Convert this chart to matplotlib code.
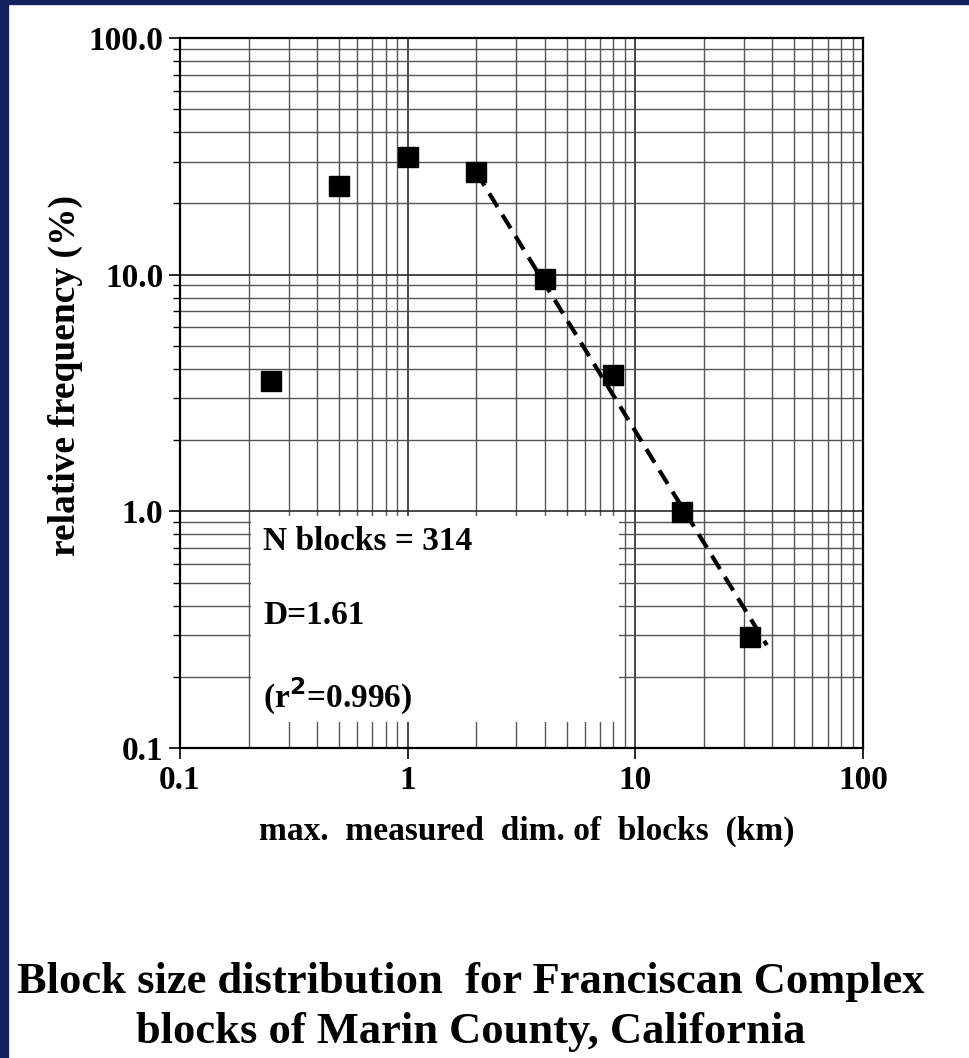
import matplotlib
matplotlib.use('Agg')
import matplotlib.pyplot as plt
from matplotlib.ticker import LogLocator, NullFormatter
from matplotlib.patches import Rectangle

plt.rcParams['font.family'] = ['Liberation Serif', 'DejaVu Serif']
plt.rcParams['font.weight'] = 'bold'

# block sizes (km) and relative frequency (%)
block_size = [0.25, 0.5, 1, 2, 4, 8, 16, 32]
rel_freq = [3.55, 23.7, 31.5, 27.1, 9.6, 3.77, 0.99, 0.295]

# dashed power-law fit, end points
fit_x = [2.0, 37.8]
fit_y = [27.1, 0.272]

x_ticks = [0.1, 1, 10, 100]
x_tick_labels = ['0.1', '1', '10', '100']
y_ticks = [0.1, 1, 10, 100]
y_tick_labels = ['0.1', '1.0', '10.0', '100.0']

info_lines = ['N blocks = 314', 'D=1.61', '(r$^{\\mathbf{2}}$=0.996)']
title_lines = ['Block size distribution  for Franciscan Complex',
               'blocks of Marin County, California']

fig = plt.figure(figsize=(9.69, 10.58), dpi=100)
fig.patch.set_facecolor('white')
navy = '#13215c'
fig.patches.append(Rectangle((0, 0), 8 / 969, 1, transform=fig.transFigure, color=navy, zorder=10))
fig.patches.append(Rectangle((0, 1 - 4 / 1058), 1, 4 / 1058, transform=fig.transFigure, color=navy, zorder=10))

ax = fig.add_axes([180 / 969, 1 - 748 / 1058, 683 / 969, 710 / 1058])
ax.set_xscale('log')
ax.set_yscale('log')
ax.set_xlim(0.1, 100)
ax.set_ylim(0.1, 100)

ax.xaxis.set_minor_locator(LogLocator(base=10, subs=range(2, 10)))
ax.yaxis.set_minor_locator(LogLocator(base=10, subs=range(2, 10)))
ax.xaxis.set_minor_formatter(NullFormatter())
ax.yaxis.set_minor_formatter(NullFormatter())
ax.set_xticks(x_ticks)
ax.set_xticklabels(x_tick_labels)
ax.set_yticks(y_ticks)
ax.set_yticklabels(y_tick_labels)

ax.grid(True, which='major', color='#2a2a2a', linewidth=1.2)
ax.grid(True, which='minor', color='#555555', linewidth=1.0)
ax.set_axisbelow(True)

ax.tick_params(axis='both', which='major', direction='out', length=8, width=1.2,
               labelsize=24, pad=4)
ax.tick_params(axis='y', which='minor', direction='out', length=5, width=1.0)
ax.tick_params(axis='x', which='minor', length=0)
for s in ax.spines.values():
    s.set_linewidth(1.6)
    s.set_color('black')

# white patch behind the annotation text
ax.add_patch(Rectangle((0.205, 0.129), 8.5 - 0.205, 0.96 - 0.129,
                       facecolor='white', edgecolor='none', zorder=1.5))

ax.plot(fit_x, fit_y, color='black', linestyle=(0, (3.8, 2.2)), linewidth=3, zorder=3)
ax.plot(block_size, rel_freq, linestyle='none', marker='s', markersize=14,
        color='black', zorder=4)

text_y = [0.279, 0.175, 0.056]
for t, yy in zip(info_lines, text_y):
    ax.text(0.1215, yy, t, transform=ax.transAxes, fontsize=24, fontweight='bold',
            ha='left', va='baseline', zorder=5)

ax.set_ylabel('relative frequency (%)', fontsize=27, fontweight='bold')
ax.yaxis.set_label_coords(-0.142, 0.525)
ax.set_xlabel('max.  measured  dim. of  blocks  (km)', fontsize=24, fontweight='bold')
ax.xaxis.set_label_coords(0.508, -0.096)

fig.text(0.486, 1 - 993 / 1058, title_lines[0], ha='center', va='baseline',
         fontsize=32, fontweight='bold')
fig.text(0.486, 1 - 1043 / 1058, title_lines[1], ha='center', va='baseline',
         fontsize=32, fontweight='bold')

plt.savefig('out.png', dpi=100)
